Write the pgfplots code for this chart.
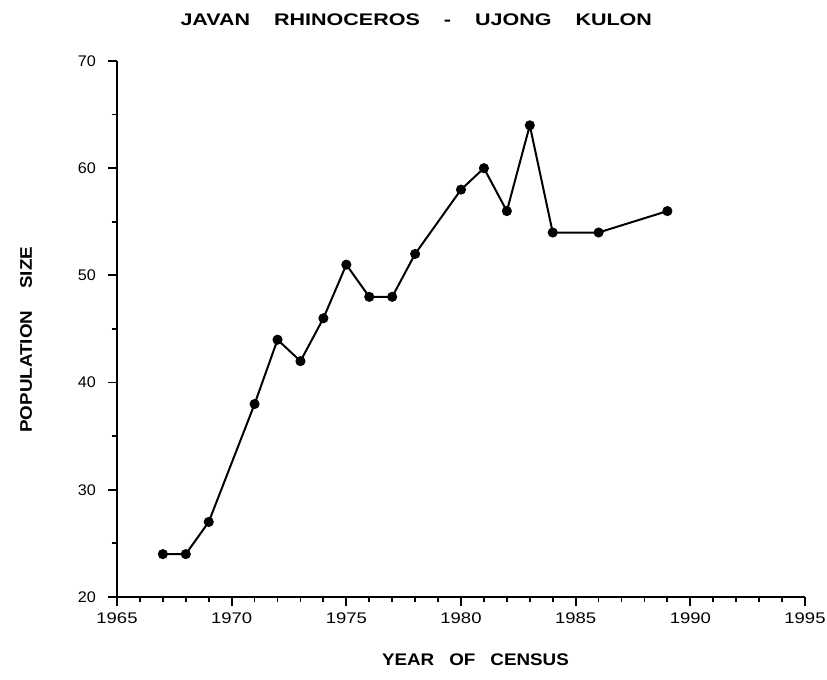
\documentclass[border=0pt]{standalone}
\usepackage{fontspec}
\setmainfont{Liberation Sans}
\newfontfamily\titlefont[FakeStretch=1.28]{Liberation Sans}
\newfontfamily\labfont[FakeStretch=1.12]{Liberation Sans}
\newfontfamily\xtickfont[FakeStretch=1.2]{Liberation Sans}
\newfontfamily\ytickfont[FakeStretch=1.05]{Liberation Sans}
\usepackage{pgfplots}
\pgfplotsset{compat=1.18}
\usetikzlibrary{calc}
\begin{document}
\begin{tikzpicture}
\begin{axis}[
  scale only axis, width=344pt, height=268pt,
  xmin=1965, xmax=1995, ymin=20, ymax=70,
  axis x line*=bottom, axis y line*=left,
  xtick={1965,1970,...,1995}, minor x tick num=4,
  ytick={20,30,...,70}, minor y tick num=1,
  tick align=outside, major tick length=4.5pt, minor tick length=2.5pt,
  every tick/.style={line width=0.9pt, black},
  axis line style={line width=1.2pt},
  x tick label style={font=\xtickfont\fontsize{7.7}{8}\selectfont},
  y tick label style={font=\ytickfont\fontsize{7.7}{8}\selectfont, xshift=-2.5pt},
  /pgf/number format/assume math mode=true,
  /pgf/number format/1000 sep={},
  clip=false,
]
\addplot[black, line width=1pt, mark=*, mark size=2pt] coordinates {
  (1967,24) (1968,24) (1969,27) (1971,38) (1972,44) (1973,42) (1974,46)
  (1975,51) (1976,48) (1977,48) (1978,52) (1980,58) (1981,60) (1982,56)
  (1983,64) (1984,54) (1986,54) (1989,56)
};
\coordinate (bl) at (rel axis cs:0,0);
\coordinate (yl) at (rel axis cs:0,0.48);
\node[font=\titlefont\bfseries\fontsize{8.4}{10}\selectfont] at (rel axis cs:0.435,1) [yshift=20.75pt]
  {JAVAN\hspace{12pt}RHINOCEROS\hspace{12pt}-\hspace{12pt}UJONG\hspace{12pt}KULON};
\node[font=\labfont\bfseries\fontsize{8.4}{10}\selectfont] at (rel axis cs:0.521,0) [yshift=-31.5pt]
  {YEAR\hspace{7.5pt}OF\hspace{7.5pt}CENSUS};
\end{axis}
\node[font=\labfont\bfseries\fontsize{8.4}{10}\selectfont, rotate=90] at ($(yl)+(-45.5pt,0)$)
  {POPULATION\hspace{11pt}SIZE};
\pgfresetboundingbox
\path ($(bl)+(-58.5pt,-41.5pt)$) rectangle ($(bl)+(355pt,298.5pt)$);
\end{tikzpicture}
\end{document}
